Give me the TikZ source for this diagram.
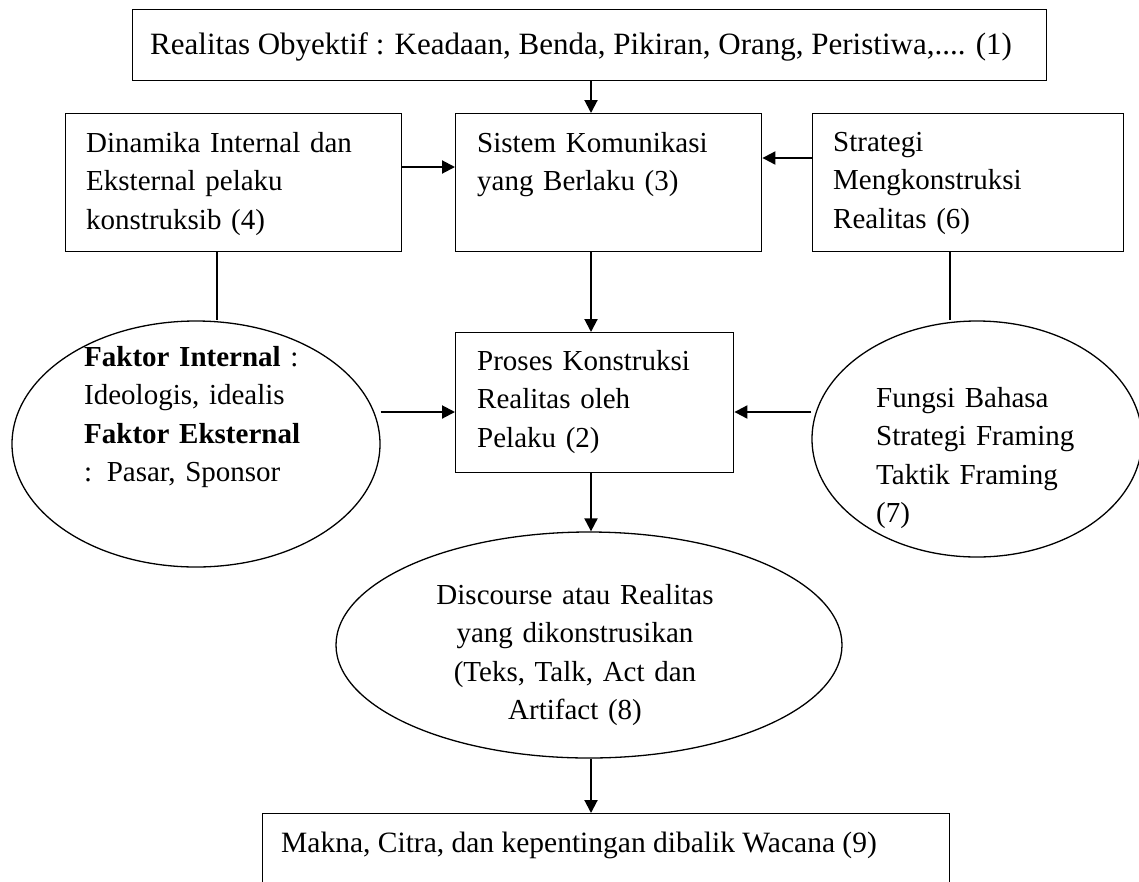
\documentclass[tikz,border=0pt]{standalone}
\usepackage{fontspec}
\setmainfont{Liberation Serif}
\usetikzlibrary{shapes.geometric,arrows.meta}
\tikzset{
  boxnode/.style={draw, line width=1.4pt, inner sep=0pt, anchor=north west},
  ellnode/.style={draw, ellipse, line width=1.3pt, inner sep=0pt},
  lbl/.style={inner sep=0pt, anchor=base west,
    font=\fontsize{29}{38.5}\selectfont},
  txt/.style={lbl, text width=340pt, align=left},
  ctxt/.style={inner sep=0pt, anchor=base, text width=340pt, align=center,
    font=\fontsize{29}{38.5}\selectfont},
  arr/.style={line width=2pt, -{Triangle[length=13pt,width=13pt]}},
  ln/.style={line width=2pt},
}
\begin{document}
\begin{tikzpicture}[x=1pt,y=-1pt]
\useasboundingbox (0,0) rectangle (1139,881);
% boxes
\node[boxnode, minimum width=914pt, minimum height=71pt] (b1) at (132,9) {};
\node[boxnode, minimum width=336pt, minimum height=138pt] (b4) at (65,113) {};
\node[boxnode, minimum width=306pt, minimum height=138pt] (b3) at (455,113) {};
\node[boxnode, minimum width=311pt, minimum height=138pt] (b6) at (812,113) {};
\node[boxnode, minimum width=278pt, minimum height=140pt] (b2) at (455,332) {};
\node[boxnode, minimum width=687pt, minimum height=120pt] (b9) at (262,813) {};
% ellipses
\node[ellnode, minimum width=368pt, minimum height=246pt] (e5) at (196,444) {};
\node[ellnode, minimum width=330pt, minimum height=236pt] (e7) at (977,439) {};
\node[ellnode, minimum width=506pt, minimum height=226pt] (e8) at (589,645) {};
% texts
\node[lbl, font=\fontsize{31}{38.5}\selectfont] (t1) at (150,54) {Realitas Obyektif : Keadaan, Benda, Pikiran, Orang, Peristiwa,.... (1)};
\node[txt] (t4) at (86,152) {Dinamika Internal dan\\Eksternal pelaku\\konstruksib (4)};
\node[txt] (t3) at (477,152) {Sistem Komunikasi\\yang Berlaku (3)};
\node[txt] (t6) at (833,151) {Strategi\\Mengkonstruksi\\Realitas (6)};
\node[txt] (t2) at (477,370) {Proses Konstruksi\\Realitas oleh\\Pelaku (2)};
\node[txt] (t5) at (84,366) {\textbf{Faktor Internal} :\\Ideologis, idealis\\\textbf{Faktor Eksternal}\\: Pasar, Sponsor};
\node[txt] (t7) at (876,407) {Fungsi Bahasa\\Strategi Framing\\Taktik Framing\\(7)};
\node[ctxt] (t8) at (575,604) {Discourse atau Realitas\\yang dikonstrusikan\\(Teks, Talk, Act dan\\Artifact (8)};
\node[lbl, font=\fontsize{29.5}{38.5}\selectfont] (t9) at (281,852) {Makna, Citra, dan kepentingan dibalik Wacana (9)};
% reference coordinates
\coordinate (xm) at (591,0);
\coordinate (xl) at (217,0);
\coordinate (xr) at (950,0);
\coordinate (yl) at (0,167);
\coordinate (yr) at (0,158);
\coordinate (ym) at (0,412);
% connectors
\draw[arr] (b1.south -| xm) -- (b3.north -| xm);
\draw[arr] (b4.east |- yl) -- (b3.west |- yl);
\draw[arr] (b6.west |- yr) -- (b3.east |- yr);
\draw[arr] (b3.south -| xm) -- (b2.north -| xm);
\draw[ln] (b4.south -| xl) -- (e5.north -| xl);
\draw[ln] (b6.south -| xr) -- (e7.north -| xr);
\draw[arr] (e5.east |- ym) -- (b2.west |- ym);
\draw[arr] (e7.west |- ym) -- (b2.east |- ym);
\draw[arr] (b2.south -| xm) -- (e8.north -| xm);
\draw[arr] (e8.south -| xm) -- (b9.north -| xm);
\end{tikzpicture}
\end{document}
